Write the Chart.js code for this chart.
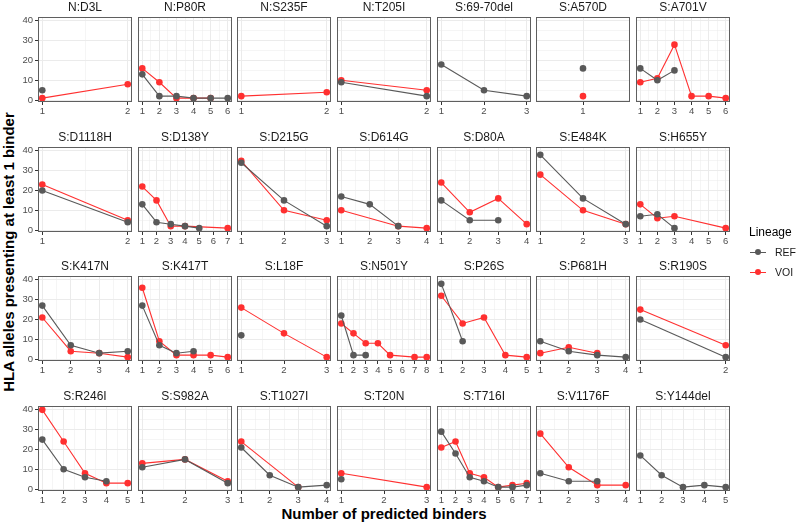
<!DOCTYPE html>
<html>
<head>
<meta charset="utf-8">
<script src="https://cdn.jsdelivr.net/npm/chart.js@4.4.1/dist/chart.umd.min.js"></script>
<style>
  body { margin: 0; background: #fff; }
  #wrap { position: relative; width: 796px; height: 526px; overflow: hidden;
          font-family: "Liberation Sans", Arial, sans-serif; }
  #wrap canvas { position: absolute; }
  .lbl { position: absolute; white-space: nowrap; }
  #ytitle { left: 8px; top: 252px; font-size: 15px; font-weight: bold; color: #000;
            transform: translate(-50%, -50%) rotate(-90deg); }
  #xtitle { left: 384px; top: 513px; font-size: 15px; font-weight: bold; color: #000;
            transform: translate(-50%, -50%); }
</style>
</head>
<body>
<div id="wrap">
  <div id="ytitle" class="lbl">HLA alleles presenting at least 1 binder</div>
  <div id="xtitle" class="lbl">Number of predicted binders</div>
</div>
<script>
// one entry per facet; index k of a values row = k+1 binders
const mutations = [
  'N:D3L', 'N:P80R', 'N:S235F', 'N:T205I', 'S:69-70del', 'S:A570D', 'S:A701V',
  'S:D1118H', 'S:D138Y', 'S:D215G', 'S:D614G', 'S:D80A', 'S:E484K', 'S:H655Y',
  'S:K417N', 'S:K417T', 'S:L18F', 'S:N501Y', 'S:P26S', 'S:P681H', 'S:R190S',
  'S:R246I', 'S:S982A', 'S:T1027I', 'S:T20N', 'S:T716I', 'S:V1176F', 'S:Y144del'
];
const maxBinders = [2, 6, 2, 2, 3, 1, 6,
                    2, 7, 3, 4, 4, 3, 6,
                    4, 6, 3, 8, 5, 4, 2,
                    5, 3, 4, 3, 7, 4, 5];
const refValues = [
  [5, null], [13, 2, 2, 1, 1, 1], [null, null], [9, 2], [18, 5, 2], [16], [16, 10, 15, null, null, null],
  [20, 4], [13, 4, 3, 2, 1, null, null], [34, 15, 2], [17, 13, 2, null], [15, 5, 5, null], [38, 16, 3], [7, 8, 1, null, null, null],
  [27, 7, 3, 4], [27, 7, 3, 4, null, null], [12, null, null], [22, 2, 2, null, null, null, null, null], [38, 9, null, null, null], [9, 4, 2, 1], [20, 1],
  [25, 10, 6, 4, null], [11, 15, 3], [21, 7, 1, 2], [5, null, null], [29, 18, 6, 4, 1, 1, 2], [8, 4, 4, null], [17, 7, 1, 2, 1]
];
const voiValues = [
  [1, 8], [16, 9, 1, 1, 1, null], [2, 4], [10, 5], [null, null, null], [2], [9, 11, 28, 2, 2, 1],
  [23, 5], [22, 15, 2, 2, null, null, 1], [35, 10, 5], [10, null, 2, 1], [24, 9, 16, 3], [28, 10, 3], [13, 6, 7, null, null, 1],
  [21, 4, 3, 1], [36, 9, 2, 2, 2, 1], [26, 13, 1], [18, 13, 8, 8, 2, null, 1, 1], [32, 18, 21, 2, 1], [3, 6, 3, null], [25, 7],
  [40, 24, 8, 3, 3], [13, 15, 4], [24, null, 1, null], [8, null, 1], [21, 24, 8, 6, 1, 2, 3], [28, 11, 2, 2], [null, null, null, null, null]
];
const yTicks = [0, 10, 20, 30, 40];
const seriesNames = ['REF', 'VOI'];
const seriesColors = ['#595959', '#FF3030'];

const FONT = '"Liberation Sans", Arial, sans-serif';
const nCols = 7;
const panelW = 94, panelH = 85, padL = 32, padR = 8, stripH = 17, axisH = 18;
const GRID = '#EBEBEB', TICK = '#333333', NONE = 'rgba(0,0,0,0)';

// shared y range: data range expanded by 5% like ggplot
const allVals = refValues.concat(voiValues).flat().filter(v => v !== null);
const yLo = Math.min(...allVals), yHi = Math.max(...allVals);
const yMin = yLo - 0.05 * (yHi - yLo), yMax = yHi + 0.05 * (yHi - yLo);
const yGrid = [];
yTicks.forEach((v, k) => { yGrid.push(v); if (k < yTicks.length - 1) yGrid.push((v + yTicks[k + 1]) / 2); });

const framePlugin = {
  id: 'frame',
  afterDatasetsDraw(chart) {
    const a = chart.chartArea, ctx = chart.ctx;
    ctx.save();
    ctx.strokeStyle = '#5f5f5f';
    ctx.lineWidth = 1;
    ctx.strokeRect(a.left + 0.5, a.top + 0.5, a.right - a.left - 1, a.bottom - a.top - 1);
    ctx.restore();
  }
};

const wrap = document.getElementById('wrap');
const isMajor = v => Math.abs(v - Math.round(v)) < 1e-9;

mutations.forEach((name, i) => {
  const col = i % nCols, row = Math.floor(i / nCols);
  const canvas = document.createElement('canvas');
  canvas.width = padL + panelW + padR;
  canvas.height = stripH + panelH + axisH;
  canvas.style.left = (Math.round(38 + col * 99.67) - padL) + 'px';
  canvas.style.top = (Math.round(17 + row * 129.6) - stripH) + 'px';
  wrap.appendChild(canvas);

  const n = maxBinders[i];
  const xmin = n > 1 ? 1 - 0.05 * (n - 1) : 0.5;
  const xmax = n > 1 ? n + 0.05 * (n - 1) : 1.5;
  const xGrid = [];
  for (let v = 1; v <= n; v += 0.5) xGrid.push(v);

  const datasets = [refValues[i], voiValues[i]].map((vals, s) => ({
    label: seriesNames[s],
    data: vals.map((v, k) => ({ x: k + 1, y: v })),
    borderColor: seriesColors[s],
    backgroundColor: seriesColors[s],
    pointBackgroundColor: seriesColors[s],
    borderWidth: 1.1,
    pointRadius: 3.3,
    pointBorderWidth: 0,
    spanGaps: true,
    tension: 0
  }));

  new Chart(canvas.getContext('2d'), {
    type: 'line',
    data: { datasets: datasets },
    options: {
      responsive: false,
      animation: false,
      events: [],
      layout: { padding: { left: 0, right: padR, top: 0, bottom: 0 } },
      plugins: {
        legend: { display: false },
        tooltip: { enabled: false },
        title: {
          display: true, text: name, fullSize: false, color: '#1A1A1A',
          font: { family: FONT, size: 12, weight: 'normal', lineHeight: 1.2 },
          padding: { top: 0, bottom: 2.6 }
        }
      },
      scales: {
        x: {
          type: 'linear', min: xmin, max: xmax,
          afterBuildTicks: s => { s.ticks = xGrid.map(v => ({ value: v })); },
          afterFit: s => { s.height = axisH; },
          border: { display: false },
          grid: {
            color: GRID,
            lineWidth: c => isMajor(c.tick.value) ? 1 : 0.5,
            tickColor: c => isMajor(c.tick.value) ? TICK : NONE,
            tickLength: 3
          },
          ticks: {
            autoSkip: false, maxRotation: 0, minRotation: 0, padding: 1,
            color: '#4D4D4D', font: { family: FONT, size: 9.5 },
            callback: v => isMajor(v) ? String(v) : ''
          }
        },
        y: {
          type: 'linear', min: yMin, max: yMax,
          afterBuildTicks: s => { s.ticks = yGrid.map(v => ({ value: v })); },
          afterFit: s => { s.width = padL; },
          border: { display: false },
          grid: {
            color: GRID,
            lineWidth: c => yTicks.includes(c.tick.value) ? 1 : 0.5,
            tickColor: c => (col === 0 && yTicks.includes(c.tick.value)) ? TICK : NONE,
            tickLength: 3
          },
          ticks: {
            display: col === 0, padding: 2,
            color: '#4D4D4D', font: { family: FONT, size: 9.5 },
            callback: v => yTicks.includes(v) ? String(v) : ''
          }
        }
      }
    },
    plugins: [framePlugin]
  });
});

// legend
const addLbl = (text, x, y, css) => {
  const d = document.createElement('div');
  d.className = 'lbl';
  d.textContent = text;
  d.style.left = x + 'px';
  d.style.top = y + 'px';
  d.style.transform = 'translateY(-50%)';
  Object.assign(d.style, css);
  wrap.appendChild(d);
};
addLbl('Lineage', 749, 232, { fontSize: '12px', color: '#000' });
seriesNames.forEach((s, k) => {
  const y = 252 + 20 * k;
  const line = document.createElement('div');
  Object.assign(line.style, { position: 'absolute', left: '750px', top: (y - 0.5) + 'px',
    width: '16px', height: '1.1px', background: seriesColors[k] });
  wrap.appendChild(line);
  const dot = document.createElement('div');
  Object.assign(dot.style, { position: 'absolute', left: (758 - 3.3) + 'px', top: (y - 3.3) + 'px',
    width: '6.6px', height: '6.6px', borderRadius: '50%', background: seriesColors[k] });
  wrap.appendChild(dot);
  addLbl(s, 775, y, { fontSize: '10.5px', color: '#1A1A1A' });
});
</script>
</body>
</html>
